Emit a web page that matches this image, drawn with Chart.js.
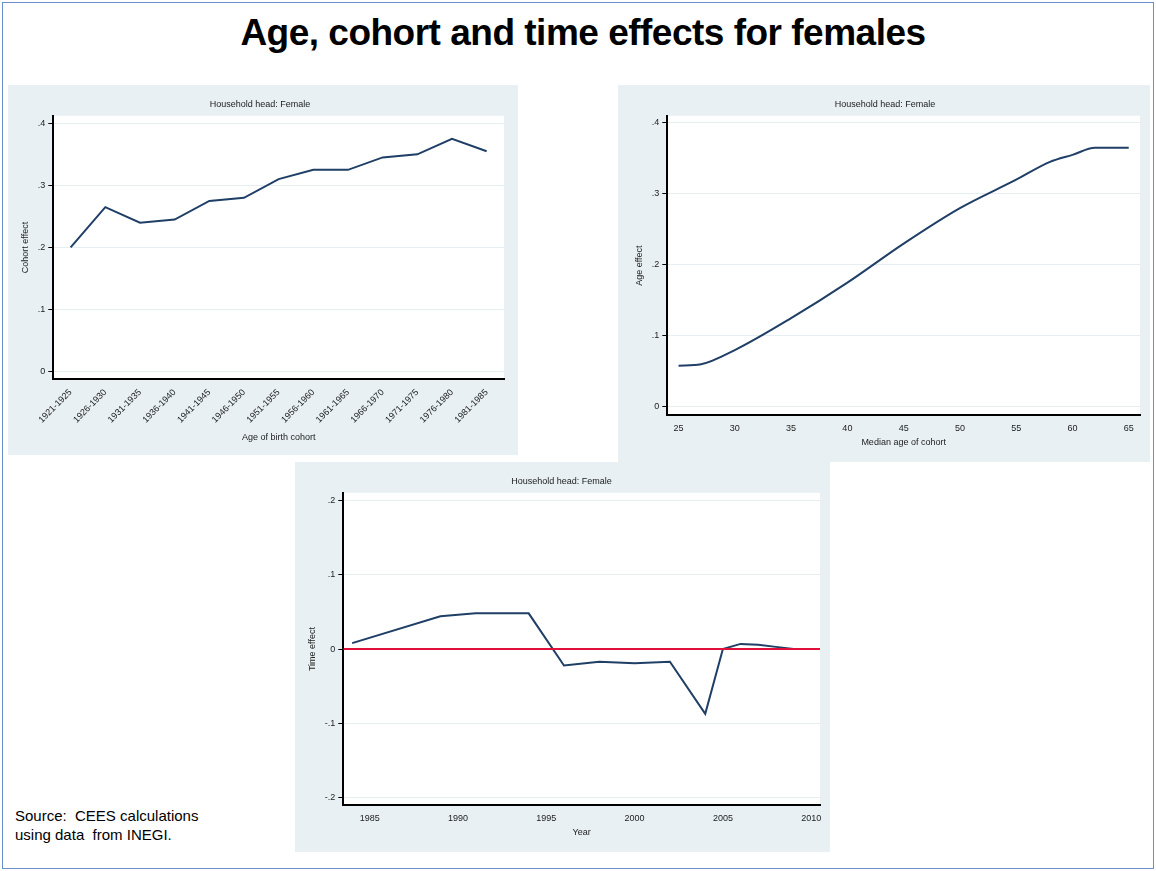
<!DOCTYPE html>
<html><head><meta charset="utf-8">
<script src="https://cdn.jsdelivr.net/npm/chart.js@4"></script>
<style>
body{margin:0;background:#fff;font-family:Arial,"Liberation Sans",sans-serif;}
#frame{position:absolute;left:2px;top:2px;width:1150px;height:865px;border:1px solid #6b8fc9;}
h1{position:absolute;left:0;width:1166px;top:12px;margin:0;text-align:center;font-size:37px;font-weight:bold;letter-spacing:-0.5px;}
.panel{position:absolute;background:#e8f0f3;}
.src{position:absolute;left:15px;top:806px;font-size:15px;line-height:19px;}
</style></head><body>
<div id="frame"></div>
<h1>Age, cohort and time effects for females</h1>
<div class="panel" style="left:8px;top:85px;width:510px;height:370px"><canvas id="c1"></canvas></div>
<div class="panel" style="left:618px;top:85px;width:532px;height:377px"><canvas id="c2"></canvas></div>
<div class="panel" style="left:295px;top:462px;width:535px;height:390px"><canvas id="c3"></canvas></div>
<div class="src">Source:&nbsp; CEES calculations<br>using data&nbsp; from INEGI.</div>
<script>
// cohort panel
const cohorts = ['1921-1925','1926-1930','1931-1935','1936-1940','1941-1945','1946-1950','1951-1955','1956-1960','1961-1965','1966-1970','1971-1975','1976-1980','1981-1985'];
const cohortEffect = [0.2,0.265,0.24,0.245,0.275,0.28,0.31,0.325,0.325,0.345,0.35,0.375,0.355];
// age panel
const ages = [25,27,30,35,40,45,50,55,58,60,62,65];
const ageEffect = [0.058,0.06,0.08,0.125,0.175,0.23,0.28,0.32,0.345,0.355,0.365,0.365];
// time panel
const years = [1984,1989,1991,1994,1996,1998,2000,2002,2004,2005,2006,2007,2008,2009,2010];
const timeEffect = [0.008,0.044,0.048,0.048,-0.022,-0.017,-0.019,-0.017,-0.087,0,0.007,0.006,0.003,0,0];

Chart.defaults.font.family = 'Arial';
Chart.defaults.font.size = 9;
Chart.defaults.color = '#222';
Chart.defaults.animation = false;

const whiteBg = {
  id: 'whiteBg',
  beforeDraw(chart) {
    const a = chart.chartArea, ctx = chart.ctx;
    ctx.save(); ctx.fillStyle = '#fff';
    ctx.fillRect(a.left, a.top, a.right - a.left, a.bottom - a.top);
    ctx.restore();
  }
};

function axisY(title, min, max, ticks) {
  return {
    min: min, max: max,
    afterBuildTicks: s => { s.ticks = ticks.map(v => ({ value: v })); },
    ticks: { callback: v => (Math.round(v * 10) / 10).toString().replace('0.', '.') },
    grid: { color: '#e6eef2', drawTicks: true, tickColor: '#000', tickLength: 5 },
    border: { color: '#000', width: 2 },
    title: { display: true, text: title }
  };
}

function baseOpts(title, pad) {
  return {
    responsive: true, maintainAspectRatio: false,
    layout: { padding: pad },
    plugins: { legend: { display: false }, title: { display: true, text: title, font: { size: 9, weight: 'normal' }, padding: { top: 14, bottom: 6 } } },
    elements: { point: { radius: 0 }, line: { borderWidth: 2, tension: 0 } }
  };
}

const o1 = baseOpts('Household head: Female', { left: 8, right: 14, top: 0, bottom: 8 });
o1.scales = {
  x: { offset: true, ticks: { minRotation: 45, maxRotation: 45 }, grid: { display: false, offset: false, tickColor: '#000', tickLength: 5 },
       border: { color: '#000', width: 2 }, title: { display: true, text: 'Age of birth cohort' } },
  y: axisY('Cohort effect', -0.012, 0.412, [0, 0.1, 0.2, 0.3, 0.4])
};
new Chart(document.getElementById('c1'), {
  type: 'line', plugins: [whiteBg],
  data: { labels: cohorts, datasets: [{ data: cohortEffect, borderColor: '#1f3f66' }] },
  options: o1
});

const o2 = baseOpts('Household head: Female', { left: 12, right: 10, top: 0, bottom: 14 });
o2.scales = {
  x: { type: 'linear', min: 24, max: 66, afterBuildTicks: s => { s.ticks = [25,30,35,40,45,50,55,60,65].map(v => ({ value: v })); },
       grid: { display: false, tickColor: '#000', tickLength: 5 }, border: { color: '#000', width: 2 },
       title: { display: true, text: 'Median age of cohort', padding: 0 } },
  y: axisY('Age effect', -0.012, 0.41, [0, 0.1, 0.2, 0.3, 0.4])
};
new Chart(document.getElementById('c2'), {
  type: 'line', plugins: [whiteBg],
  data: { datasets: [{ data: ages.map((a, i) => ({ x: a, y: ageEffect[i] })), borderColor: '#1f3f66', cubicInterpolationMode: 'monotone' }] },
  options: o2
});

const o3 = baseOpts('Household head: Female', { left: 8, right: 10, top: 0, bottom: 14 });
o3.scales = {
  x: { type: 'linear', min: 1983.5, max: 2010.5, afterBuildTicks: s => { s.ticks = [1985,1990,1995,2000,2005,2010].map(v => ({ value: v })); },
       grid: { display: false, tickColor: '#000', tickLength: 5 }, border: { color: '#000', width: 2 },
       ticks: { callback: v => String(v) }, title: { display: true, text: 'Year', padding: 0 } },
  y: axisY('Time effect', -0.21, 0.21, [-0.2, -0.1, 0, 0.1, 0.2])
};
new Chart(document.getElementById('c3'), {
  type: 'line', plugins: [whiteBg],
  data: { datasets: [
    { data: [{ x: 1983.5, y: 0 }, { x: 2010.5, y: 0 }], borderColor: '#e0103a', borderWidth: 2 },
    { data: years.map((y, i) => ({ x: y, y: timeEffect[i] })), borderColor: '#1f3f66' }
  ] },
  options: o3
});
</script>
</body></html>
